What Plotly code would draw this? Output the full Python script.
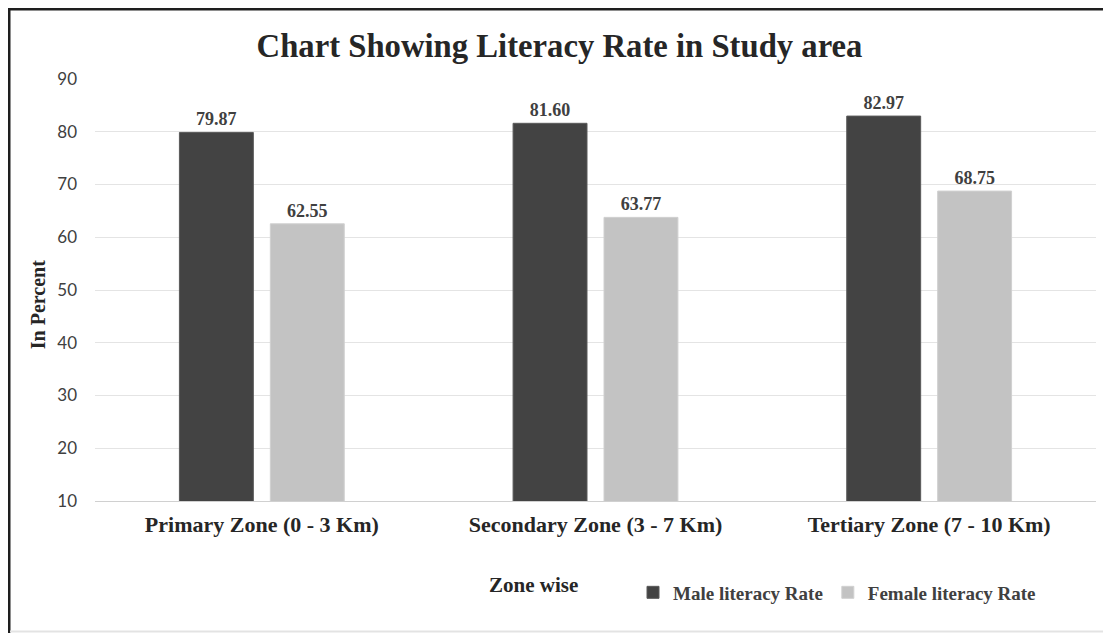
import plotly.graph_objects as go

zones = ["Primary Zone (0 - 3 Km)", "Secondary Zone (3 - 7 Km)", "Tertiary Zone (7 - 10 Km)"]
male = [79.87, 81.60, 82.97]
female = [62.55, 63.77, 68.75]
series_names = ["Male literacy Rate", "Female literacy Rate"]
y_ticks = [10, 20, 30, 40, 50, 60, 70, 80, 90]

SERIF = "Liberation Serif, Times New Roman, serif"
TXT = "#404040"

W, H = 1103, 625
L, R, T, B = 87, 15, 71, 132.4
PW, PH = W - L - R, H - T - B


def px(x):
    return (x - L) / PW


def py(y):
    return (H - B - y) / PH


fig = go.Figure()
fig.add_trace(go.Bar(
    x=zones, y=male, name=series_names[0],
    marker=dict(color="#434343", line=dict(color="#5a5a5a", width=1)),
    text=[f"{v:.2f}" for v in male], textposition="outside",
    textfont=dict(family=SERIF, size=18, color=TXT, weight="bold"), cliponaxis=False,
))
fig.add_trace(go.Bar(
    x=zones, y=female, name=series_names[1],
    marker=dict(color="#c3c3c3", line=dict(color="#d0d0d0", width=1)),
    text=[f"{v:.2f}" for v in female], textposition="outside",
    textfont=dict(family=SERIF, size=18, color=TXT, weight="bold"), cliponaxis=False,
))

fig.update_layout(
    width=W, height=H,
    margin=dict(l=L, r=R, t=T, b=B, autoexpand=False),
    paper_bgcolor="white", plot_bgcolor="white",
    barmode="group", bargap=0.455, bargroupgap=0.187,
    title=dict(text="<b>Chart Showing Literacy Rate in Study area</b>",
               x=0.5, xanchor="center", y=1 - 38 / H, yanchor="middle",
               font=dict(family=SERIF, size=32.7, color="#262626")),
    showlegend=True,
    legend=dict(orientation="h", x=px(625), xanchor="left", y=py(584), yanchor="middle",
                font=dict(family=SERIF, size=19, color=TXT, weight="bold"),
                traceorder="normal", bgcolor="rgba(0,0,0,0)"),
    xaxis=dict(showgrid=False, showline=True, linecolor="#d0d0d0", linewidth=1,
               ticks="", ticklabelstandoff=4,
               tickfont=dict(family=SERIF, size=22, color="#262626", weight="bold")),
    yaxis=dict(range=[10, 90], tickvals=y_ticks, showgrid=True, gridcolor="#e4e4e4",
               gridwidth=1, zeroline=False, showline=False, ticks="", ticklabelstandoff=17,
               tickfont=dict(family="Lato, Open Sans, sans-serif", size=17, color=TXT)),
    annotations=[
        dict(text="<b>In Percent</b>", textangle=-90, xref="paper", yref="paper",
             x=px(30), y=py(297), xanchor="center", yanchor="middle",
             showarrow=False, font=dict(family=SERIF, size=20, color="#262626")),
        dict(text="<b>Zone wise</b>", xref="paper", yref="paper",
             x=px(525), y=py(577), xanchor="center", yanchor="middle",
             showarrow=False, font=dict(family=SERIF, size=21, color="#262626")),
    ],
    shapes=[
        dict(type="line", xref="paper", yref="paper",
             x0=px(0), x1=px(W), y0=py(1), y1=py(1),
             line=dict(color="#1e1e1e", width=3)),
        dict(type="line", xref="paper", yref="paper",
             x0=px(1), x1=px(1), y0=py(0), y1=py(H),
             line=dict(color="#1e1e1e", width=3)),
        dict(type="line", xref="paper", yref="paper",
             x0=px(2), x1=px(W), y0=py(623), y1=py(623),
             line=dict(color="#e3e3e3", width=2)),
    ],
)

fig.write_html("out.html")
